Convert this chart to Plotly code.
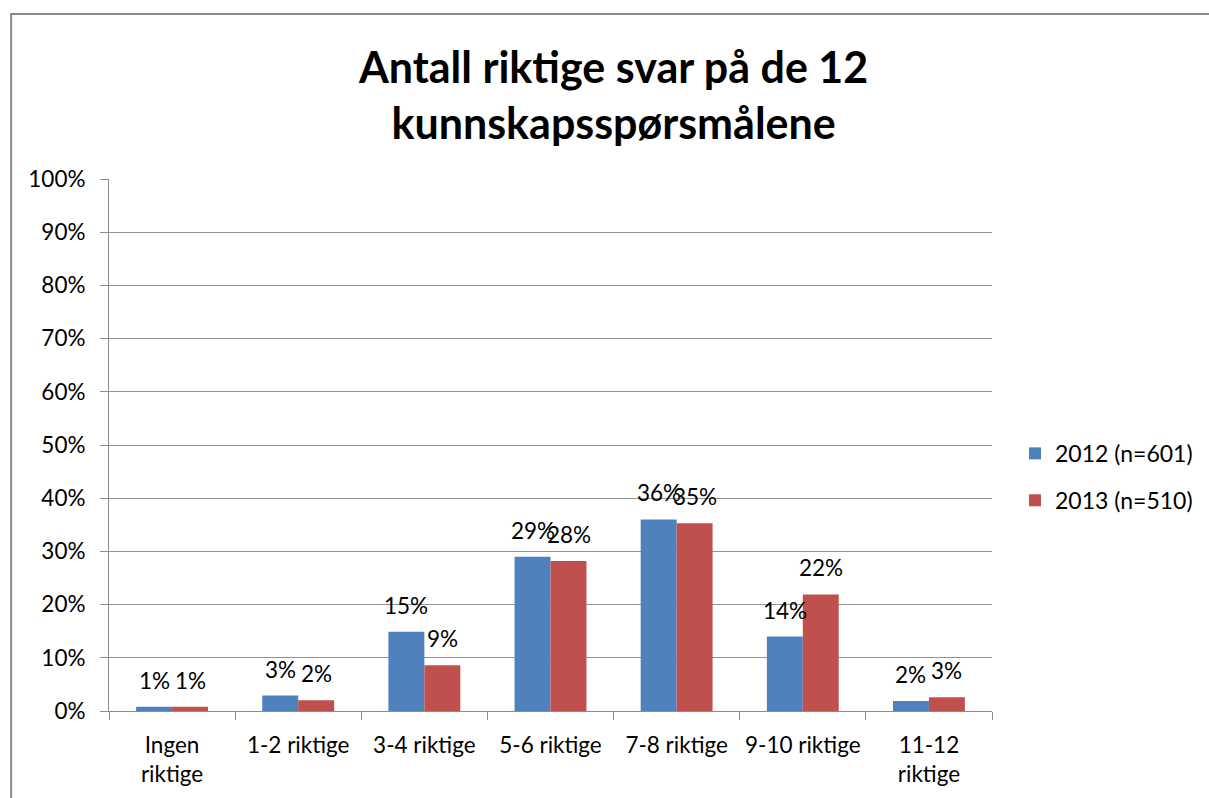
import plotly.graph_objects as go

# data
kategorier = ['Ingen<br>riktige', '1-2 riktige', '3-4 riktige', '5-6 riktige',
              '7-8 riktige', '9-10 riktige', '11-12<br>riktige']
verdier_2012 = [0.008, 0.029, 0.149, 0.290, 0.360, 0.140, 0.019]
verdier_2013 = [0.008, 0.020, 0.086, 0.282, 0.353, 0.219, 0.026]
serier = ['2012 (n=601)', '2013 (n=510)']
farger = ['#4F81BD', '#C0504D']
tittel = '<b>Antall riktige svar på de 12<br>kunnskapsspørsmålene</b>'

FONT = 'Lato'
W, H = 1209, 798
ML, MT = 109, 179
PW, PH = 884, 532
MR, MB = W - ML - PW, H - MT - PH


fig = go.Figure()

for navn, verdier, farge, grp in zip(serier, [verdier_2012, verdier_2013], farger, ['a', 'b']):
    fig.add_trace(go.Bar(
        x = kategorier,
        y = verdier,
        name = navn,
        legendgroup = grp,
        marker = {'color': farge, 'line': {'width': 0}},
    ))

# data labels above each bar (Excel style "outside end")
annotations = []
for verdier, xs in zip([verdier_2012, verdier_2013], [-18, 18]):
    for kat, v in zip(kategorier, verdier):
        annotations.append({
            'x': kat,
            'y': v,
            'xref': 'x',
            'yref': 'y',
            'text': f'{v:.0%}',
            'showarrow': False,
            'xshift': xs,
            'yshift': 11,
            'yanchor': 'bottom',
            'font': {'size': 22.5, 'color': '#000000', 'family': FONT},
        })

# title as an annotation so both lines sit where they should
annotations.append({
    'text': tittel,
    'xref': 'paper',
    'yref': 'paper',
    'x': (614 - ML) / PW,
    'y': (H - MB - 95) / PH,
    'xanchor': 'center',
    'yanchor': 'middle',
    'showarrow': False,
    'font': {'size': 43, 'family': FONT, 'color': '#000000'},
})

fig.update_layout({
    'width': W,
    'height': H,
    'paper_bgcolor': 'white',
    'plot_bgcolor': 'white',
    'font': {'family': FONT, 'size': 22.5, 'color': '#000000'},
    'margin': {'l': ML, 'r': MR, 't': MT, 'b': MB, 'pad': 0},
    'barmode': 'group',
    'bargap': 0.43,
    'bargroupgap': 0,
    'legend': {
        'x': (1015 - ML) / PW,
        'xanchor': 'left',
        'y': 0.44,
        'yanchor': 'middle',
        'tracegroupgap': 14,
        'font': {'size': 23, 'family': FONT},
        'bgcolor': 'rgba(0,0,0,0)',
    },
    'annotations': annotations,
    'shapes': [{
        'type': 'rect',
        'xref': 'paper',
        'yref': 'paper',
        'x0': (11 - ML) / PW,
        'x1': 1.6,
        'y0': -0.6,
        'y1': (H - MB - 14) / PH,
        'line': {'color': '#888888', 'width': 2},
        'fillcolor': 'rgba(0,0,0,0)',
        'layer': 'below',
    }],
})

fig.update_yaxes(
    range = [0, 1],
    dtick = 0.1,
    tickformat = '.0%',
    showgrid = True,
    gridcolor = '#929292',
    gridwidth = 1,
    showline = True,
    linecolor = '#8c8c8c',
    linewidth = 1,
    ticks = 'outside',
    ticklen = 8,
    tickcolor = '#8c8c8c',
    ticklabelstandoff = 10,
    zeroline = False,
)

fig.update_xaxes(
    showline = True,
    linecolor = '#8c8c8c',
    linewidth = 1,
    ticks = 'outside',
    tickson = 'boundaries',
    ticklen = 8,
    tickcolor = '#8c8c8c',
    showgrid = False,
    ticklabelstandoff = 14,
)

# drop the default page margin so the figure fills the window exactly
fig.write_html(
    'out.html',
    config = {'displayModeBar': False},
    post_script = "document.body.style.margin='0';document.body.style.overflow='hidden';",
)
